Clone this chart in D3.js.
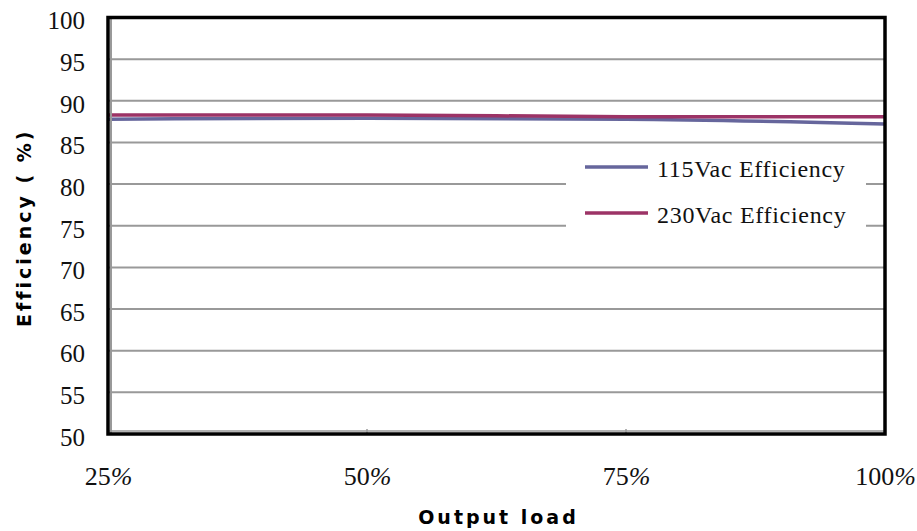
<!DOCTYPE html>
<html>
<head>
<meta charset="utf-8">
<script src="https://cdn.jsdelivr.net/npm/d3@7"></script>
<style>
  html, body { margin: 0; padding: 0; background: #fff; }
  svg { display: block; }
</style>
</head>
<body>
<svg></svg>
<script>
// data
const loads = ['25%', '50%', '75%', '100%'];
const eff115 = [87.8, 87.9, 87.8, 87.2];
const eff230 = [88.3, 88.3, 88.1, 88.1];
const yTicks = [50, 55, 60, 65, 70, 75, 80, 85, 90, 95, 100];
const seriesNames = ['115Vac Efficiency', '230Vac Efficiency'];
const seriesColors = ['#66669c', '#9c3366'];

const width = 917;
const height = 531;
const plotLeft = 108, plotRight = 885, plotTop = 17.5, plotBottom = 434;

const svg = d3.select('svg').attr('width', width).attr('height', height);

const xScale = d3.scalePoint().domain(loads).range([plotLeft, plotRight]);
const yScale = d3.scaleLinear().domain([50, 100]).range([plotBottom, plotTop]);

// gridlines
svg.append('g')
  .selectAll('line')
  .data(yTicks.filter(d => d > 50 && d < 100))
  .enter()
  .append('line')
  .attr('x1', plotLeft)
  .attr('x2', plotRight)
  .attr('y1', d => yScale(d))
  .attr('y2', d => yScale(d))
  .attr('stroke', '#999')
  .attr('stroke-width', 2);

// y axis labels
const yAxis = d3.axisLeft(yScale).tickValues(yTicks).tickSize(0).tickPadding(23);
svg.append('g')
  .attr('transform', `translate(${plotLeft},0)`)
  .call(yAxis)
  .call(g => g.select('.domain').remove())
  .selectAll('text')
  .attr('dy', '0.45em')
  .attr('font-family', '"Liberation Serif", serif')
  .attr('font-size', 25)
  .attr('fill', '#111');

// x axis labels: digits upright, percent sign slanted
const xAxis = d3.axisBottom(xScale).tickSize(0).tickPadding(33);
svg.append('g')
  .attr('transform', `translate(0,${plotBottom})`)
  .call(xAxis)
  .call(g => g.select('.domain').remove())
  .selectAll('text')
  .attr('font-family', '"Liberation Serif", serif')
  .attr('font-size', 26)
  .attr('fill', '#111')
  .each(function (d) {
    const t = d3.select(this).text(null);
    t.append('tspan').text(d.replace('%', ''));
    t.append('tspan').attr('font-style', 'italic').text('%');
  });

// small inner ticks on the bottom edge
svg.append('g')
  .selectAll('line')
  .data(loads.slice(1, 3))
  .enter()
  .append('line')
  .attr('x1', d => xScale(d))
  .attr('x2', d => xScale(d))
  .attr('y1', plotBottom)
  .attr('y2', plotBottom - 5)
  .attr('stroke', '#999')
  .attr('stroke-width', 1.5);

// lines
const line = d3.line()
  .x((d, i) => xScale(loads[i]))
  .y(d => yScale(d))
  .curve(d3.curveMonotoneX);

[eff115, eff230].forEach((vals, i) => {
  svg.append('path')
    .datum(vals)
    .attr('d', line)
    .attr('fill', 'none')
    .attr('stroke', seriesColors[i])
    .attr('stroke-width', 3.5);
});

// legend
const legend = svg.append('g');
legend.append('rect')
  .attr('x', 566).attr('y', 146)
  .attr('width', 300).attr('height', 94)
  .attr('fill', '#fff');
seriesNames.forEach((name, i) => {
  const ly = 167 + i * 46;
  legend.append('line')
    .attr('x1', 585).attr('x2', 648)
    .attr('y1', ly).attr('y2', ly)
    .attr('stroke', seriesColors[i])
    .attr('stroke-width', 3.5);
  legend.append('text')
    .attr('x', 657).attr('y', ly + 10)
    .attr('font-family', '"Liberation Serif", serif')
    .attr('font-size', 24)
    .attr('letter-spacing', 0.7)
    .attr('fill', '#111')
    .text(name);
});

// frame
svg.append('line')
  .attr('x1', plotLeft + 3).attr('x2', plotLeft + 3)
  .attr('y1', plotTop).attr('y2', plotBottom)
  .attr('stroke', '#999').attr('stroke-width', 2);
svg.append('line')
  .attr('x1', plotLeft).attr('x2', plotRight)
  .attr('y1', plotBottom - 3).attr('y2', plotBottom - 3)
  .attr('stroke', '#999').attr('stroke-width', 1.5);
svg.append('rect')
  .attr('x', plotLeft).attr('y', plotTop)
  .attr('width', plotRight - plotLeft).attr('height', plotBottom - plotTop)
  .attr('fill', 'none')
  .attr('stroke', '#000')
  .attr('stroke-width', 3.5);

// axis titles
const midX = (plotLeft + plotRight) / 2;
const midY = (plotTop + plotBottom) / 2;
svg.append('text')
  .attr('x', midX + 2).attr('y', 524)
  .attr('text-anchor', 'middle')
  .attr('font-family', '"DejaVu Sans", sans-serif')
  .attr('font-weight', 'bold')
  .attr('font-size', 19)
  .attr('letter-spacing', 3)
  .text('Output load');

svg.append('text')
  .attr('transform', `translate(31,${midY + 2}) rotate(-90)`)
  .attr('text-anchor', 'middle')
  .attr('font-family', '"DejaVu Sans", sans-serif')
  .attr('font-weight', 'bold')
  .attr('font-size', 19)
  .attr('letter-spacing', 3)
  .text('Efficiency ( %)');
</script>
</body>
</html>
